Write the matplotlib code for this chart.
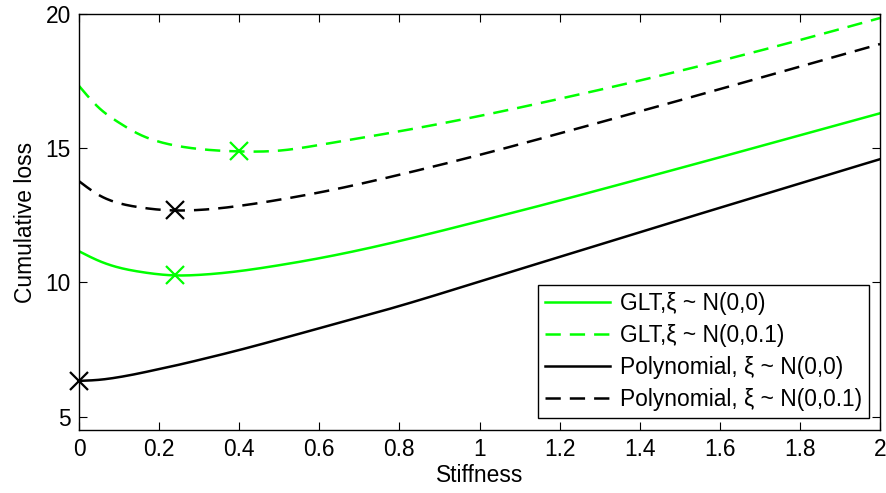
import numpy as np
import matplotlib
matplotlib.use('Agg')
import matplotlib.pyplot as plt

plt.rcParams['font.family'] = ['Liberation Sans', 'DejaVu Sans']
plt.rcParams['font.size'] = 16.4
plt.rcParams['lines.scale_dashes'] = False

stiff = [0.0, 0.05, 0.1, 0.15, 0.2, 0.24, 0.3, 0.4, 0.5, 0.6, 0.8, 1.0, 1.2, 1.4, 1.6, 1.8, 2.0]

glt_00 = [11.16, 10.80, 10.55, 10.40, 10.30, 10.26, 10.28, 10.42, 10.64, 10.90, 11.54,
          12.28, 13.05, 13.85, 14.66, 15.48, 16.30]
glt_01 = [17.32, 16.50, 15.95, 15.52, 15.24, 15.10, 14.97, 14.88, 14.91, 15.12, 15.63,
          16.20, 16.84, 17.52, 18.25, 19.03, 19.85]
poly_00 = [6.33, 6.37, 6.47, 6.61, 6.77, 6.90, 7.11, 7.48, 7.88, 8.29, 9.12,
           10.03, 10.95, 11.87, 12.78, 13.69, 14.59]
poly_01 = [13.77, 13.25, 12.95, 12.80, 12.71, 12.68, 12.70, 12.85, 13.08, 13.35, 14.01,
           14.75, 15.55, 16.37, 17.20, 18.04, 18.88]

# minimum of each curve
min_x = [0.24, 0.40, 0.0, 0.24]
min_y = [10.26, 14.88, 6.33, 12.68]

labels = ['GLT,ξ ~ N(0,0)', 'GLT,ξ ~ N(0,0.1)',
          'Polynomial, ξ ~ N(0,0)', 'Polynomial, ξ ~ N(0,0.1)']

xticks = np.arange(0, 2.01, 0.2)
yticks = [5, 10, 15, 20]


def spline(x, y, xs):
    # natural cubic spline through the points
    x = np.asarray(x, float)
    y = np.asarray(y, float)
    n = len(x)
    h = np.diff(x)
    A = np.zeros((n, n))
    r = np.zeros(n)
    A[0, 0] = A[-1, -1] = 1
    for i in range(1, n - 1):
        A[i, i - 1] = h[i - 1]
        A[i, i] = 2 * (h[i - 1] + h[i])
        A[i, i + 1] = h[i]
        r[i] = 6 * ((y[i + 1] - y[i]) / h[i] - (y[i] - y[i - 1]) / h[i - 1])
    m = np.linalg.solve(A, r)
    idx = np.clip(np.searchsorted(x, xs) - 1, 0, n - 2)
    t0 = xs - x[idx]
    t1 = x[idx + 1] - xs
    hi = h[idx]
    return (m[idx] * t1**3 / (6 * hi) + m[idx + 1] * t0**3 / (6 * hi)
            + (y[idx] / hi - m[idx] * hi / 6) * t1
            + (y[idx + 1] / hi - m[idx + 1] * hi / 6) * t0)


fig = plt.figure(figsize=(8.87, 4.93), dpi=100)
ax = fig.add_axes([0.0891, 0.1278, 0.9030, 0.8438])

green = '#00ff00'
dash = (0, (11, 6.5))
xs = np.linspace(0, 2, 500)
series = [(glt_00, green, '-'), (glt_01, green, dash),
          (poly_00, 'k', '-'), (poly_01, 'k', dash)]
for (ys, c, ls), lab, mx, my in zip(series, labels, min_x, min_y):
    ax.plot(xs, spline(stiff, ys, xs), color=c, linestyle=ls, linewidth=1.8, label=lab)
    ax.plot(mx, my, marker='x', color=c, markersize=13, markeredgewidth=1.6,
            linestyle='none', clip_on=False)

ax.set_xlim(0, 2)
ax.set_ylim(4.5, 20)
ax.set_xticks(xticks)
ax.set_xticklabels(['0', '0.2', '0.4', '0.6', '0.8', '1', '1.2', '1.4', '1.6', '1.8', '2'])
ax.set_yticks(yticks)
ax.tick_params(direction='in', length=6, width=0.8, top=True, right=True, labelsize=16.4, pad=6)
for s in ax.spines.values():
    s.set_linewidth(1.0)

ax.set_xlabel('Stiffness', fontsize=16.4, labelpad=2)
ax.set_ylabel('Cumulative loss', fontsize=16.4, labelpad=6)

leg = ax.legend(loc='lower right', fontsize=16.4, handlelength=2.85, handletextpad=0.45,
                borderpad=0.3, labelspacing=0.4, fancybox=False, framealpha=1,
                edgecolor='k', borderaxespad=0, bbox_to_anchor=(0.986, 0.029))
leg.get_frame().set_linewidth(1.0)

fig.savefig('out.png', dpi=100)
